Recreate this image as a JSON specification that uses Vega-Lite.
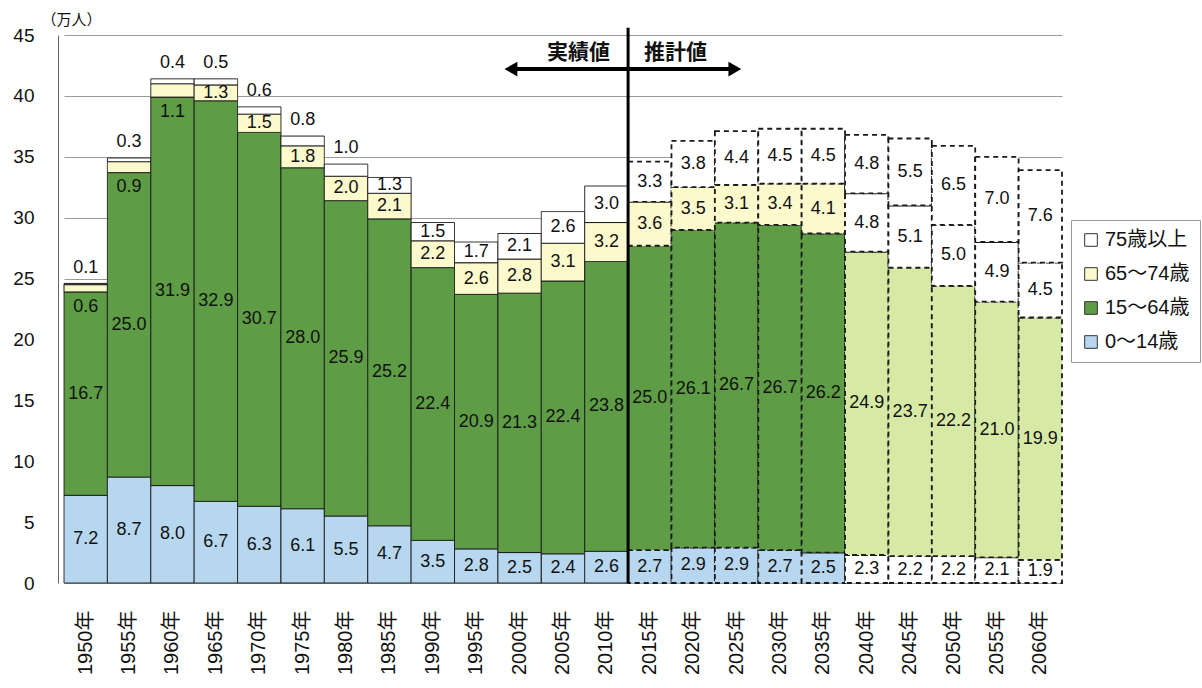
{
  "$schema": "https://vega.github.io/schema/vega-lite/v6.json",
  "width": 1004,
  "height": 548,
  "autosize": {"type": "none"},
  "padding": {"left": 58, "top": 35, "right": 140, "bottom": 105},
  "background": "#ffffff",
  "config": {
    "view": {"stroke": null},
    "font": "Liberation Sans, Noto Sans CJK JP"
  },
  "data": {
    "values": [
      {"year": 1950, "0～14歳": 7.2, "15～64歳": 16.7, "65～74歳": 0.6, "75歳以上": 0.1},
      {"year": 1955, "0～14歳": 8.7, "15～64歳": 25.0, "65～74歳": 0.9, "75歳以上": 0.3},
      {"year": 1960, "0～14歳": 8.0, "15～64歳": 31.9, "65～74歳": 1.1, "75歳以上": 0.4},
      {"year": 1965, "0～14歳": 6.7, "15～64歳": 32.9, "65～74歳": 1.3, "75歳以上": 0.5},
      {"year": 1970, "0～14歳": 6.3, "15～64歳": 30.7, "65～74歳": 1.5, "75歳以上": 0.6},
      {"year": 1975, "0～14歳": 6.1, "15～64歳": 28.0, "65～74歳": 1.8, "75歳以上": 0.8},
      {"year": 1980, "0～14歳": 5.5, "15～64歳": 25.9, "65～74歳": 2.0, "75歳以上": 1.0},
      {"year": 1985, "0～14歳": 4.7, "15～64歳": 25.2, "65～74歳": 2.1, "75歳以上": 1.3},
      {"year": 1990, "0～14歳": 3.5, "15～64歳": 22.4, "65～74歳": 2.2, "75歳以上": 1.5},
      {"year": 1995, "0～14歳": 2.8, "15～64歳": 20.9, "65～74歳": 2.6, "75歳以上": 1.7},
      {"year": 2000, "0～14歳": 2.5, "15～64歳": 21.3, "65～74歳": 2.8, "75歳以上": 2.1},
      {"year": 2005, "0～14歳": 2.4, "15～64歳": 22.4, "65～74歳": 3.1, "75歳以上": 2.6},
      {"year": 2010, "0～14歳": 2.6, "15～64歳": 23.8, "65～74歳": 3.2, "75歳以上": 3.0},
      {"year": 2015, "0～14歳": 2.7, "15～64歳": 25.0, "65～74歳": 3.6, "75歳以上": 3.3},
      {"year": 2020, "0～14歳": 2.9, "15～64歳": 26.1, "65～74歳": 3.5, "75歳以上": 3.8},
      {"year": 2025, "0～14歳": 2.9, "15～64歳": 26.7, "65～74歳": 3.1, "75歳以上": 4.4},
      {"year": 2030, "0～14歳": 2.7, "15～64歳": 26.7, "65～74歳": 3.4, "75歳以上": 4.5},
      {"year": 2035, "0～14歳": 2.5, "15～64歳": 26.2, "65～74歳": 4.1, "75歳以上": 4.5},
      {"year": 2040, "0～14歳": 2.3, "15～64歳": 24.9, "65～74歳": 4.8, "75歳以上": 4.8},
      {"year": 2045, "0～14歳": 2.2, "15～64歳": 23.7, "65～74歳": 5.1, "75歳以上": 5.5},
      {"year": 2050, "0～14歳": 2.2, "15～64歳": 22.2, "65～74歳": 5.0, "75歳以上": 6.5},
      {"year": 2055, "0～14歳": 2.1, "15～64歳": 21.0, "65～74歳": 4.9, "75歳以上": 7.0},
      {"year": 2060, "0～14歳": 1.9, "15～64歳": 19.9, "65～74歳": 4.5, "75歳以上": 7.6}
    ]
  },
  "layer": [
    {
      "transform": [
        {"fold": ["0～14歳", "15～64歳", "65～74歳", "75歳以上"], "as": ["cat", "v"]},
        {"calculate": "indexof(['0～14歳','15～64歳','65～74歳','75歳以上'], datum.cat)", "as": "ord"},
        {"stack": "v", "groupby": ["year"], "sort": [{"field": "ord", "order": "ascending"}], "as": ["y0", "y1"]}
      ],
      "mark": {"type": "bar", "stroke": "#1a1a1a"},
      "encoding": {
        "x": {
          "field": "year", "type": "ordinal",
          "scale": {"type": "band", "range": [6, 1004], "paddingInner": 0, "paddingOuter": 0},
          "axis": {
            "title": null, "labelAngle": -90, "labelExpr": "datum.value + '年'",
            "labelFontSize": 20, "labelColor": "#111", "labelPadding": 27,
            "ticks": false, "domain": false
          }
        },
        "y": {
          "field": "y0", "type": "quantitative",
          "scale": {"domain": [0, 45], "nice": false},
          "axis": {
            "values": [0, 5, 10, 15, 20, 25, 30, 35, 40, 45],
            "title": "（万人）", "titleAngle": 0, "titleX": 13, "titleY": -16,
            "titleAlign": "center", "titleBaseline": "middle", "titleFontSize": 15,
            "titleFontWeight": "normal", "titleColor": "#111",
            "labelFontSize": 19, "labelColor": "#111", "labelPadding": 24,
            "ticks": false, "domainColor": "#666", "gridColor": "#9a9a9a", "gridWidth": 1
          }
        },
        "y2": {"field": "y1"},
        "fill": {
          "condition": [
            {"test": "datum.year >= 2040 && datum.cat != '15～64歳'", "value": "#ffffff"},
            {"test": "datum.year >= 2040", "value": "#d6eaa6"}
          ],
          "field": "cat", "type": "nominal",
          "scale": {
            "domain": ["75歳以上", "65～74歳", "15～64歳", "0～14歳"],
            "range": ["#ffffff", "#fcf9cc", "#5e9c46", "#b6d7ef"]
          },
          "legend": {
            "title": null, "orient": "none", "legendX": 1013, "legendY": 185,
            "symbolType": "square", "symbolSize": 160, "symbolStrokeColor": "#333",
            "symbolStrokeWidth": 1, "labelFontSize": 20, "labelColor": "#111",
            "rowPadding": 14, "padding": 10, "strokeColor": "#999", "fillColor": "#ffffff",
            "labelFont": "Liberation Sans, Noto Sans CJK JP"
          }
        },
        "strokeDash": {"condition": {"test": "datum.year >= 2015", "value": [5, 4]}, "value": [1, 0]},
        "strokeWidth": {"condition": {"test": "datum.year >= 2015", "value": 1.8}, "value": 1}
      }
    },
    {
      "transform": [
        {"fold": ["0～14歳", "15～64歳", "65～74歳", "75歳以上"], "as": ["cat", "v"]},
        {"calculate": "indexof(['0～14歳','15～64歳','65～74歳','75歳以上'], datum.cat)", "as": "ord"},
        {"stack": "v", "groupby": ["year"], "sort": [{"field": "ord", "order": "ascending"}], "as": ["y0", "y1"]},
        {"calculate": "datum.cat == '75歳以上' && datum.v < 1.2 ? datum.y1 + 1.3 : (datum.cat == '65～74歳' && datum.v < 1.2 ? datum.y0 - 1.2 : (datum.y0 + datum.y1) / 2)", "as": "ly"}
      ],
      "mark": {"type": "text", "fontSize": 18, "baseline": "middle", "align": "center", "color": "#111"},
      "encoding": {
        "x": {"field": "year", "type": "ordinal"},
        "y": {"field": "ly", "type": "quantitative"},
        "text": {"field": "v", "type": "quantitative", "format": ".1f"}
      }
    },
    {
      "data": {"values": [{}]},
      "mark": {"type": "rule", "color": "#000", "strokeWidth": 3},
      "encoding": {
        "x": {"datum": 2015, "type": "ordinal", "bandPosition": 0},
        "y": {"datum": 0, "type": "quantitative"},
        "y2": {"datum": 45.6}
      }
    },
    {
      "data": {"values": [{}]},
      "mark": {"type": "rule", "color": "#000", "strokeWidth": 4},
      "encoding": {
        "x": {"datum": 2000, "type": "ordinal", "bandPosition": 0.3},
        "x2": {"datum": 2025, "bandPosition": 0.46},
        "y": {"datum": 42.2, "type": "quantitative"}
      }
    },
    {
      "data": {"values": [{}]},
      "mark": {"type": "point", "shape": "triangle-left", "filled": true, "color": "#000", "size": 220, "opacity": 1},
      "encoding": {
        "x": {"datum": 2000, "type": "ordinal", "bandPosition": 0.3},
        "y": {"datum": 42.2, "type": "quantitative"}
      }
    },
    {
      "data": {"values": [{}]},
      "mark": {"type": "point", "shape": "triangle-right", "filled": true, "color": "#000", "size": 220, "opacity": 1},
      "encoding": {
        "x": {"datum": 2025, "type": "ordinal", "bandPosition": 0.46},
        "y": {"datum": 42.2, "type": "quantitative"}
      }
    },
    {
      "data": {"values": [{}]},
      "mark": {"type": "text", "text": "実績値", "align": "right", "baseline": "middle", "dx": -18, "fontSize": 21, "fontWeight": "bold", "font": "Noto Sans CJK JP", "color": "#111"},
      "encoding": {
        "x": {"datum": 2015, "type": "ordinal", "bandPosition": 0},
        "y": {"datum": 43.5, "type": "quantitative"}
      }
    },
    {
      "data": {"values": [{}]},
      "mark": {"type": "text", "text": "推計値", "align": "left", "baseline": "middle", "dx": 16, "fontSize": 21, "fontWeight": "bold", "font": "Noto Sans CJK JP", "color": "#111"},
      "encoding": {
        "x": {"datum": 2015, "type": "ordinal", "bandPosition": 0},
        "y": {"datum": 43.5, "type": "quantitative"}
      }
    }
  ]
}
